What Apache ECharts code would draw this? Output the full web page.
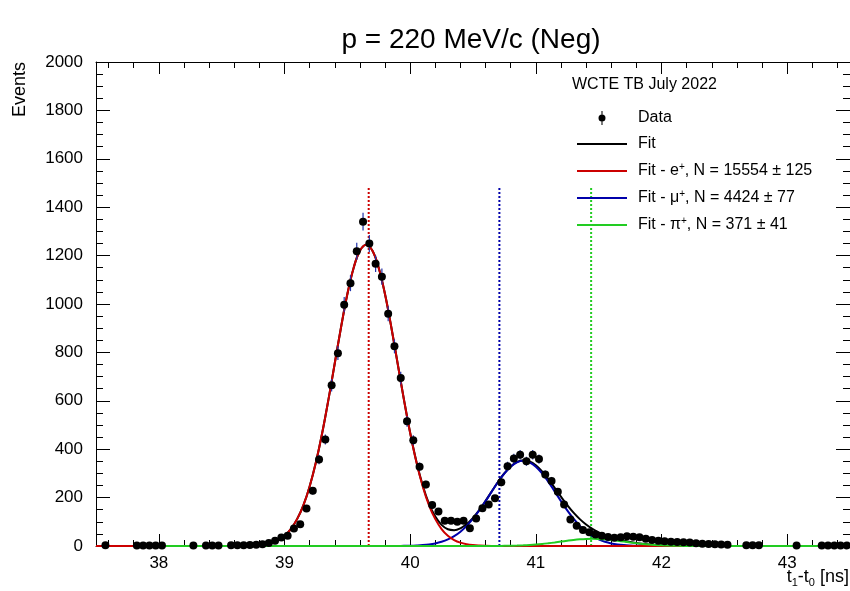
<!DOCTYPE html>
<html lang="en">
<head>
  <meta charset="UTF-8">
  <title>p = 220 MeV/c (Neg)</title>
  <script src="https://cdn.jsdelivr.net/npm/echarts@6/dist/echarts.min.js"></script>
  <style>
    html, body { margin: 0; padding: 0; background: #fff; }
    #main { width: 850px; height: 591px; }
  </style>
</head>
<body>
  <div id="main"></div>
  <script>
    // histogram: 120 bins of 0.05 ns between 37.5 and 43.5 ns
    var xMin = 37.5, xMax = 43.5, binWidth = 0.05;

    // bin contents (null = empty bin, not drawn)
    var counts = [
      null, 3, null, null, null, null, 2, 2, 2, 2,
      2, null, null, null, null, 2, null, 2, 2, 2,
      null, 3, 3, 3, 4, 5, 7, 12, 22, 35,
      42, 72, 90, 155, 228, 357, 440, 664, 797, 997,
      1086, 1218, 1340, 1250, 1166, 1113, 960, 825, 694, 515,
      437, 327, 254, 169, 143, 104, 104, 100, 104, 73,
      114, 156, 172, 197, 263, 330, 362, 377, 350, 377,
      359, 295, 269, 224, 172, 110, 84, 66, 57, 48,
      42, 37, 34, 36, 40, 38, 36, 30, 25, 22,
      20, 18, 17, 15, 14, 11, 9, 8, 7, 6,
      5, null, null, 3, 3, 3, null, null, null, null,
      null, 2, null, null, null, 2, 2, 2, 2, 2
    ];

    var fitStart = 38.5, fitStep = 0.05;
    var fitTotal = [
      0, 0.1, 0.2, 0.4, 0.9, 1.9, 3.8, 7.4, 13.8, 24.7,
      42, 70, 111, 168, 246, 346, 467, 606, 755, 904,
      1040, 1149, 1220, 1245, 1220, 1149, 1040, 904, 755.3, 606.6,
      468.1, 348.1, 249.7, 174.4, 121.7, 87.4, 69.1, 65.5, 73.1, 90.7,
      116.5, 149, 186.4, 226.2, 265.3, 300.6, 328.8, 347.5, 354.7, 349.9,
      333.7, 308.2, 276.1, 240.2, 203.7, 168.9, 137.8, 111, 88.7, 70.8,
      56.5, 45.1, 35.8, 28.2, 21.9, 16.7, 12.4, 8.9, 6.2, 4.1,
      2.7, 1.7, 1.0, 0.6, 0.3, 0.2, 0
    ];
    var fitE = [
      0, 0.1, 0.2, 0.4, 0.9, 1.9, 3.8, 7.4, 13.8, 24.7,
      42, 70, 111, 168, 246, 346, 467, 606, 755, 904,
      1040, 1149, 1220, 1245, 1220, 1149, 1040, 904, 755, 606,
      467, 346, 246, 168, 111, 70, 42, 24.7, 13.8, 7.4,
      3.8, 1.9, 0.9, 0.4, 0.2, 0.1, 0, 0, 0, 0,
      0, 0, 0, 0, 0, 0, 0, 0, 0, 0,
      0, 0, 0, 0, 0, 0, 0, 0, 0, 0,
      0, 0, 0, 0, 0, 0, 0
    ];
    var fitMu = [
      0, 0, 0, 0, 0, 0, 0, 0, 0, 0,
      0, 0, 0, 0, 0, 0, 0, 0, 0, 0,
      0, 0, 0, 0, 0, 0, 0, 0, 0.3, 0.6,
      1.1, 2.1, 3.7, 6.4, 10.7, 17.4, 27.1, 40.8, 59.3, 83.3,
      112.7, 147.1, 185.5, 225.6, 264.8, 299.9, 327.8, 345.8, 352, 345.8,
      327.8, 299.9, 264.8, 225.6, 185.5, 147.1, 112.7, 83.3, 59.3, 40.8,
      27.1, 17.4, 10.7, 6.4, 3.7, 2.1, 1.1, 0.6, 0.3, 0,
      0, 0, 0, 0, 0, 0, 0
    ];
    var fitPi = [
      0, 0, 0, 0, 0, 0, 0, 0, 0, 0,
      0, 0, 0, 0, 0, 0, 0, 0, 0, 0,
      0, 0, 0, 0, 0, 0, 0, 0, 0, 0,
      0, 0, 0, 0, 0, 0, 0, 0, 0, 0,
      0, 0, 0, 0.2, 0.3, 0.6, 1.0, 1.7, 2.7, 4.1,
      5.9, 8.3, 11.3, 14.6, 18.2, 21.8, 25.1, 27.7, 29.4, 30,
      29.4, 27.7, 25.1, 21.8, 18.2, 14.6, 11.3, 8.3, 5.9, 4.1,
      2.7, 1.7, 1.0, 0.6, 0.3, 0.2, 0
    ];

    // dotted vertical markers (e, mu, pi)
    var markerX = [39.67, 40.71, 41.44];
    var markerTop = 1485;

    var legendNames = ['Data', 'Fit', 'Fit - e+, N = 15554 \u00b1 125', 'Fit - \u03bc+, N = 4424 \u00b1 77', 'Fit - \u03c0+, N = 371 \u00b1 41'];
    var colors = { fit: '#000000', e: '#cc0000', mu: '#0000aa', pi: '#22cc22', err: '#2233aa' };
    var FONT = '"Liberation Sans", Arial, Helvetica, sans-serif';

    // build point lists
    var dataPts = [], errPts = [];
    counts.forEach(function (c, k) {
      if (c === null) return;
      var x = +(xMin + (k + 0.5) * binWidth).toFixed(3);
      dataPts.push([x, c]);
      errPts.push([x, c, Math.sqrt(c)]);
    });
    function curve(vals, from, to) {
      var pts = [];
      if (from !== undefined) pts.push([from, 0]);
      vals.forEach(function (v, i) {
        pts.push([+(fitStart + i * fitStep).toFixed(2), v]);
      });
      if (to !== undefined) pts.push([to, 0]);
      return pts;
    }

    var myChart = echarts.init(document.getElementById('main'), null, { renderer: 'canvas' });

    var axisCommon = {
      type: 'value',
      splitLine: { show: false },
      axisLine: { show: true, onZero: false, lineStyle: { color: '#000', width: 1 } },
      axisTick: { show: true, inside: true, lineStyle: { color: '#000', width: 1 } },
      minorTick: { show: true, lineStyle: { color: '#000', width: 1 } }
    };
    function xAx(pos, labels) {
      return echarts.util.merge({
        position: pos, min: xMin, max: xMax, splitNumber: 6,
        axisTick: { length: 12 },
        minorTick: { splitNumber: 5, length: 6 },
        axisLabel: {
          show: labels, showMinLabel: false, showMaxLabel: false,
          color: '#000', fontSize: 17, fontFamily: FONT, margin: 9
        }
      }, echarts.util.clone(axisCommon), false);
    }
    function yAx(pos, labels) {
      return echarts.util.merge({
        position: pos, min: 0, max: 2000, interval: 200,
        axisTick: { length: 14 },
        minorTick: { splitNumber: 4, length: 7 },
        axisLabel: {
          show: labels, color: '#000', fontSize: 17, fontFamily: FONT, margin: 13,
          formatter: function (v) { return String(v); }
        }
      }, echarts.util.clone(axisCommon), false);
    }

    // legend icons: plain line for fits, dot + bar for data
    var lineIcon = 'path://M0,0h50v2h-50z';
    var dataIcon = 'path://M4.4,0h1.2v16h-1.2z M5,4a4,4 0 1,1 0,8a4,4 0 1,1 0,-8z';

    var option = {
      backgroundColor: '#fff',
      animation: false,
      textStyle: { fontFamily: FONT },
      title: [{
        text: 'p = 220 MeV/c (Neg)',
        left: 471, top: 26, padding: 0, textAlign: 'center',
        textStyle: { fontSize: 28, fontWeight: 'normal', color: '#000', fontFamily: FONT }
      }, {
        text: 'WCTE TB July 2022',
        left: 572, top: 77, padding: 0,
        textStyle: { fontSize: 16, fontWeight: 'normal', color: '#000', fontFamily: FONT }
      }],
      grid: { left: 96, right: 0, top: 62, bottom: 45, containLabel: false },
      xAxis: [xAx('bottom', true), xAx('top', false)],
      yAxis: [yAx('left', true), yAx('right', false)],
      legend: {
        orient: 'vertical',
        left: 572, top: 105,
        itemWidth: 50, itemHeight: 14, itemGap: 10,
        symbolKeepAspect: true,
        selectedMode: false,
        data: [
          { name: legendNames[0], icon: dataIcon, itemStyle: { color: '#000', opacity: 1 } },
          { name: legendNames[1], icon: lineIcon },
          { name: legendNames[2], icon: lineIcon },
          { name: legendNames[3], icon: lineIcon },
          { name: legendNames[4], icon: lineIcon }
        ],
        formatter: function (name) {
          var m = name.match(/^(Fit - \S+)\+(, .*)$/);
          if (m) return '{f|' + m[1] + '}{sup|+}{t|' + m[2] + '}';
          return '{f|' + name + '}';
        },
        textStyle: {
          color: '#000', fontSize: 16, fontFamily: FONT,
          rich: {
            f: { fontSize: 16, lineHeight: 18, color: '#000', fontFamily: FONT, padding: [0, 0, 0, 6] },
            t: { fontSize: 16, lineHeight: 18, color: '#000', fontFamily: FONT },
            sup: { fontSize: 10, lineHeight: 10, verticalAlign: 'top', color: '#000', fontFamily: FONT }
          }
        }
      },
      graphic: [{
        type: 'text',
        x: 20, y: 62,
        rotation: Math.PI / 2,
        style: { text: 'Events', fontSize: 18, fontFamily: FONT, fill: '#000', align: 'right', verticalAlign: 'middle' }
      }, {
        type: 'text',
        right: 1, top: 568,
        style: {
          text: '{a|t}{b|1}{a|-t}{b|0}{a| [ns]}',
          fill: '#000',
          rich: {
            a: { fontSize: 18, lineHeight: 22, fontFamily: FONT, fill: '#000' },
            b: { fontSize: 11, lineHeight: 11, verticalAlign: 'bottom', fontFamily: FONT, fill: '#000' }
          }
        }
      }],
      series: [
        {
          name: 'markers', type: 'line', silent: true, symbol: 'none', z: 1,
          data: [[markerX[0], 0], [markerX[0], markerTop]],
          lineStyle: { color: colors.e, width: 2, type: [2, 2] }
        },
        {
          name: 'markers2', type: 'line', silent: true, symbol: 'none', z: 1,
          data: [[markerX[1], 0], [markerX[1], markerTop]],
          lineStyle: { color: colors.mu, width: 2, type: [2, 2] }
        },
        {
          name: 'markers3', type: 'line', silent: true, symbol: 'none', z: 1,
          data: [[markerX[2], 0], [markerX[2], markerTop]],
          lineStyle: { color: colors.pi, width: 2, type: [2, 2] }
        },
        {
          name: legendNames[1], type: 'line', symbol: 'none', smooth: 0.4, z: 2,
          data: curve(fitTotal, xMin, xMax),
          itemStyle: { color: colors.fit },
          lineStyle: { color: colors.fit, width: 2 }
        },
        {
          name: legendNames[3], type: 'line', symbol: 'none', smooth: 0.4, z: 3,
          data: curve(fitMu),
          itemStyle: { color: colors.mu },
          lineStyle: { color: colors.mu, width: 2 }
        },
        {
          name: legendNames[2], type: 'line', symbol: 'none', smooth: 0.4, z: 4,
          data: curve(fitE, xMin, xMax),
          itemStyle: { color: colors.e },
          lineStyle: { color: colors.e, width: 2 }
        },
        {
          name: legendNames[4], type: 'line', symbol: 'none', smooth: 0.4, z: 5,
          data: curve(fitPi, 38.0, xMax),
          itemStyle: { color: colors.pi },
          lineStyle: { color: colors.pi, width: 2 }
        },
        {
          name: 'errors', type: 'custom', z: 6, silent: true,
          data: errPts,
          renderItem: function (params, api) {
            var x = api.value(0), y = api.value(1), e = api.value(2);
            var p1 = api.coord([x, y - e]);
            var p2 = api.coord([x, y + e]);
            return {
              type: 'line',
              shape: { x1: p1[0], y1: p1[1], x2: p2[0], y2: p2[1] },
              style: { stroke: colors.err, lineWidth: 1.2 }
            };
          }
        },
        {
          name: legendNames[0], type: 'scatter', z: 7,
          symbol: 'circle', symbolSize: 8,
          data: dataPts,
          itemStyle: { color: '#000', opacity: 1 }
        }
      ]
    };

    myChart.setOption(option);
  </script>
</body>
</html>
